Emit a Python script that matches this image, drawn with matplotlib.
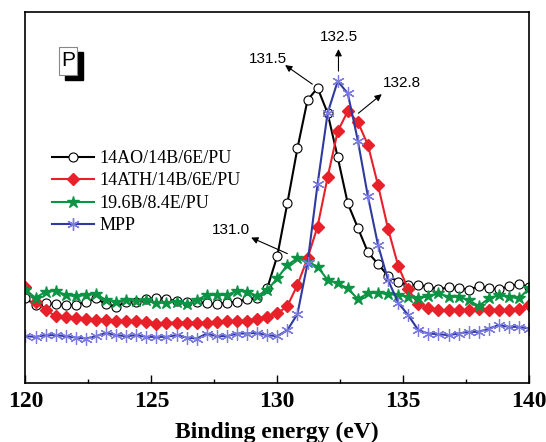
import numpy as np
import matplotlib
matplotlib.use('Agg')
import matplotlib.pyplot as plt
from matplotlib.patches import Rectangle

# binding energy grid (eV), one point per marker
energy = np.round(np.arange(120.0, 140.01, 0.4), 1)

# intensities (arbitrary units)
ao = [84.3, 77.7, 79.3, 78.7, 77.7, 77.7, 81.0, 84.3, 78.7, 76.0,
      81.0, 81.0, 83.7, 85.0, 83.7, 81.7, 81.0, 81.0, 79.3, 78.7,
      80.0, 81.0, 83.7, 84.3, 94.3, 126.7, 179.3, 234.0, 282.0, 294.3,
      269.0, 225.0, 179.0, 154.7, 130.3, 118.7, 106.7, 101.0, 97.7, 97.7,
      96.0, 93.3, 95.3, 95.0, 92.7, 96.7, 94.3, 93.3, 96.7, 98.3, 96.0]
ath = [95.3, 81.0, 72.7, 66.7, 66.0, 65.3, 64.3, 63.3, 62.7, 62.0,
       62.0, 61.7, 61.0, 59.3, 60.0, 60.3, 60.3, 60.3, 60.0, 61.0,
       61.7, 61.7, 62.0, 64.3, 66.0, 69.3, 76.7, 97.7, 124.3, 156.0,
       205.3, 251.0, 271.0, 260.3, 237.3, 197.3, 153.7, 117.0, 93.3, 78.7,
       74.3, 72.7, 72.7, 72.7, 72.7, 73.3, 72.7, 72.7, 72.7, 73.3, 77.7]
bpu = [92.7, 85.0, 91.0, 92.0, 87.7, 86.7, 87.7, 88.7, 82.7, 81.0,
       82.7, 82.0, 82.7, 80.0, 80.0, 81.0, 78.7, 82.7, 87.7, 87.7,
       87.7, 92.0, 91.0, 86.7, 92.7, 104.3, 117.7, 124.3, 121.0, 116.0,
       102.7, 99.3, 94.3, 83.7, 89.3, 90.0, 88.7, 87.7, 86.0, 84.3,
       86.7, 89.3, 86.0, 86.0, 82.7, 76.7, 84.3, 87.7, 86.0, 84.3, 94.3]
mpp = [46.7, 46.0, 47.7, 47.7, 46.7, 45.3, 44.3, 46.7, 50.0, 47.7,
       46.7, 47.7, 46.0, 46.0, 46.0, 47.7, 45.3, 44.3, 49.3, 46.7,
       46.7, 49.3, 49.3, 50.0, 47.7, 46.7, 52.7, 68.7, 119.3, 198.3,
       269.3, 301.0, 288.7, 241.7, 186.0, 137.7, 102.7, 80.0, 67.7, 52.7,
       49.3, 48.7, 47.7, 49.3, 51.0, 51.0, 54.3, 57.7, 56.0, 56.0, 54.3]

labels = ['14AO/14B/6E/PU', '14ATH/14B/6E/PU', '19.6B/8.4E/PU', 'MPP']

# peak labels: text, text position, arrow tail, arrow head
peaks = [('131.5', (129.63, 323), (131.39, 298), (130.31, 317)),
         ('132.5', (132.46, 345), (132.43, 311), (132.43, 333)),
         ('132.8', (134.96, 299), (133.22, 269), (134.15, 288)),
         ('131.0', (128.15, 153), (130.40, 129), (128.96, 145))]

fig = plt.figure(figsize=(5.46, 4.42), dpi=100, facecolor='white')
ax = fig.add_axes([0.0467, 0.1335, 0.9223, 0.8395])

ax.plot(energy, ao, '-o', color='black', lw=1.5, ms=6.5, mfc='white',
        mec='black', mew=0.8, label=labels[0])
ax.plot(energy, ath, '-D', color='#e8202a', lw=1.5, ms=6, mec='#e8202a',
        label=labels[1])
ax.plot(energy, bpu, '-*', color='#0b9444', lw=1.5, ms=9, mec='#0b9444',
        label=labels[2])
l4, = ax.plot(energy, mpp, '-', color='#2e3a9e', lw=1.5, label=labels[3])
ax.plot(energy, mpp, ls='none', marker=(6, 2, 0), ms=9, mec='#7a7ae0',
        mew=0.9)

for txt, tpos, tail, head in peaks:
    ax.annotate('', xy=head, xytext=tail,
                arrowprops=dict(arrowstyle='-|>', color='black', lw=0.8,
                                mutation_scale=10, shrinkA=0, shrinkB=0))
    ax.text(tpos[0], tpos[1], txt, fontsize=11, family='Liberation Sans',
            ha='center', va='center')

ax.set_xlim(120, 140)
ax.set_ylim(0, 370)
ax.set_xticks([120, 125, 130, 135, 140])
ax.set_xticks([122.5, 127.5, 132.5, 137.5], minor=True)
ax.set_yticks([])
ax.tick_params(axis='x', which='major', direction='in', length=6, width=1,
               pad=6, top=False)
ax.tick_params(axis='x', which='minor', direction='in', length=3, width=1,
               top=False)
for lab in ax.get_xticklabels():
    lab.set_family('Liberation Serif')
    lab.set_weight('bold')
    lab.set_fontsize(17)
for s in ax.spines.values():
    s.set_linewidth(1.2)
ax.set_xlabel('Binding energy (eV)', family='Liberation Serif',
              weight='bold', fontsize=17, labelpad=7)

# "P" tag with drop shadow
ax.add_patch(Rectangle((0.0784, 0.817), 0.0358, 0.076, transform=ax.transAxes,
                       facecolor='black', edgecolor='black', zorder=5))
ax.add_patch(Rectangle((0.0665, 0.831), 0.0358, 0.075, transform=ax.transAxes,
                       facecolor='white', edgecolor='#888888', lw=0.8,
                       zorder=6))
ax.text(0.0844, 0.868, 'P', transform=ax.transAxes, fontsize=15,
        family='Liberation Sans', ha='center', va='center', zorder=7)

hs, ls = ax.get_legend_handles_labels()
leg = ax.legend(hs, ls, loc='upper left', frameon=False,
                bbox_to_anchor=(52 / 546, 1 - 150 / 442),
                bbox_transform=fig.transFigure, borderaxespad=0, borderpad=0,
                handlelength=2.3, handletextpad=0.35, labelspacing=0.3,
                prop={'family': 'Liberation Serif', 'size': 13})
# put the asterisk marker on the MPP legend line
leg.legend_handles[3].set_marker((6, 2, 0))
leg.legend_handles[3].set_markersize(9)
leg.legend_handles[3].set_markeredgecolor('#7a7ae0')

fig.savefig('out.png', dpi=100, facecolor='white')
